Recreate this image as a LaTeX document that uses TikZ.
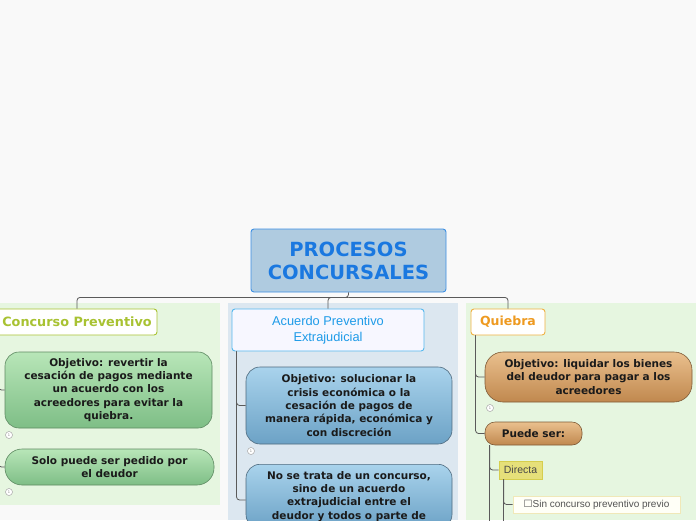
\documentclass[tikz,border=0pt]{standalone}
\usepackage{fontspec}
\setmainfont{DejaVu Sans}
\newfontfamily\arialfont{Liberation Sans}
\newfontfamily\symbolfont{DejaVu Sans}
\usetikzlibrary{calc}

\definecolor{bgwhite}{HTML}{F9F9F9}
\definecolor{panelgreen}{HTML}{E6F6E0}
\definecolor{panelblue}{HTML}{DCE7F0}
\definecolor{linegray}{HTML}{5A5A5A}
\definecolor{rootfill}{HTML}{AFCBE0}
\definecolor{rootline}{HTML}{3D8FE3}
\definecolor{roottext}{HTML}{1A78E0}
\definecolor{limegreen}{HTML}{A8C232}
\definecolor{skyline}{HTML}{55B8EE}
\definecolor{skytext}{HTML}{1E9BE8}
\definecolor{orangeline}{HTML}{F0B040}
\definecolor{orangetext}{HTML}{EE9A20}
\definecolor{nodetext}{HTML}{1A1A1A}
\definecolor{greentop}{HTML}{B8E6B8}
\definecolor{greenbottom}{HTML}{7EBE86}
\definecolor{greenline}{HTML}{5E8A62}
\definecolor{bluetop}{HTML}{A9D3EC}
\definecolor{bluebottom}{HTML}{6CA2C6}
\definecolor{blueline}{HTML}{4E6A7E}
\definecolor{browntop}{HTML}{EAC08E}
\definecolor{brownbottom}{HTML}{C0884E}
\definecolor{brownline}{HTML}{7E5A36}
\definecolor{directafill}{HTML}{E6E07A}
\definecolor{directaline}{HTML}{D6CE4E}
\definecolor{sinline}{HTML}{F0E8B8}

\begin{document}
\begin{tikzpicture}[x=1pt, y=-1pt,
    conn/.style={draw=linegray, line width=0.8pt, rounded corners=3pt},
    topic/.style={rectangle, rounded corners=3pt, line width=0.9pt, fill=white, align=center, inner sep=0pt},
    bubble/.style={rectangle, rounded corners=14pt, draw=#1, line width=0.6pt, align=center,
                   inner sep=0pt, text=nodetext, font=\fontsize{10.5}{13.3}\selectfont\bfseries},
    greenbubble/.style={bubble=greenline, top color=greentop, bottom color=greenbottom},
    bluebubble/.style={bubble=blueline, top color=bluetop, bottom color=bluebottom},
    brownbubble/.style={bubble=brownline, top color=browntop, bottom color=brownbottom},
    marker/.style={circle, draw=gray!70, fill=white, line width=0.5pt, minimum size=7pt, inner sep=0pt,
                   font=\fontsize{3.5}{4}\selectfont, text=gray}
  ]
      % Page
      \useasboundingbox (0,0) rectangle (696,520);
      \clip (0,0) rectangle (696,520);
      \fill[bgwhite] (0,0) rectangle (696,520);

      % Branch panels
      \fill[panelgreen] (0,303) rectangle (220,505);
      \fill[panelblue] (228,303) rectangle (458,520);
      \fill[panelgreen] (466,303) rectangle (696,520);

      % Central topic
      \node[topic, draw=rootline, fill=rootfill, text=roottext, minimum width=195pt, minimum height=63pt,
            font=\fontsize{19.5}{23}\selectfont\bfseries] (root) at (348.5,260.5) {PROCESOS\\CONCURSALES};

      % Main branches
      \node[topic, draw=limegreen, text=limegreen, minimum width=160pt, minimum height=26pt,
            font=\fontsize{12.8}{15}\selectfont\bfseries] (concurso) at (77,322) {Concurso Preventivo};
      \node[topic, draw=skyline, fill=blue!3!white, text=skytext, minimum width=192pt, minimum height=42pt,
            font=\arialfont\fontsize{12.8}{16}\selectfont] (acuerdo) at (328,330) {Acuerdo Preventivo\\Extrajudicial};
      \node[topic, draw=orangeline, text=orangetext, minimum width=74pt, minimum height=26pt,
            font=\fontsize{12.5}{15}\selectfont\bfseries] (quiebra) at (508,322) {Quiebra};

      % Concurso Preventivo
      \node[greenbubble, minimum width=207pt, minimum height=76pt] (revertir) at (108.5,390)
        {Objetivo: revertir la\\cesación de pagos mediante\\un acuerdo con los\\acreedores para evitar la\\quiebra.};
      \node[greenbubble, rounded corners=17pt, minimum width=209pt, minimum height=36pt] (solo) at (109.5,467)
        {Solo puede ser pedido por\\el deudor};

      % Acuerdo Preventivo Extrajudicial
      \node[bluebubble, minimum width=206pt, minimum height=77pt] (solucionar) at (349,405.5)
        {Objetivo: solucionar la\\crisis económica o la\\cesación de pagos de\\manera rápida, económica y\\con discreción};
      \node[bluebubble, anchor=north, minimum width=206pt, inner ysep=7pt] (notrata) at (349,464)
        {No se trata de un concurso,\\sino de un acuerdo\\extrajudicial entre el\\deudor y todos o parte de};

      % Quiebra
      \node[brownbubble, rounded corners=18pt, minimum width=207pt, minimum height=50pt] (liquidar) at (588.5,377)
        {Objetivo: liquidar los bienes\\del deudor para pagar a los\\acreedores};
      \node[brownbubble, rounded corners=10pt, minimum width=97pt, minimum height=23pt] (puede) at (533.5,433.5)
        {Puede ser:};
      \node[rectangle, draw=directaline, fill=directafill, line width=0.8pt,
            minimum width=43pt, minimum height=18pt, inner sep=0pt, text=nodetext!80,
            font=\arialfont\fontsize{10.5}{12}\selectfont] (directa) at (520.5,470) {Directa};
      \node[rectangle, draw=sinline, fill=white!97!yellow, line width=0.8pt,
            minimum width=167pt, minimum height=17pt, inner sep=0pt, text=nodetext!75,
            font=\arialfont\fontsize{10}{12}\selectfont] (sin) at (596.5,504.5)
        {{\symbolfont ☐}Sin concurso preventivo previo};

      % Connectors from the central topic
      \coordinate (split) at ($(root.south)+(0,5)$);
      \draw[conn] (root.south) -- (split) -| (concurso.north);
      \draw[conn] (split) -| (acuerdo.north);
      \draw[conn] (split) -| (quiebra.north);

      % Connectors inside the branches
      \coordinate (lefttrunk) at ($(concurso.south west)+(2,0)$);
      \draw[conn] (lefttrunk) |- (revertir.west);
      \draw[conn] (lefttrunk) |- (solo.west);

      \coordinate (midtrunk) at ($(acuerdo.south west)+(5,0)$);
      \draw[conn] (midtrunk) |- (solucionar.west);
      \draw[conn] (midtrunk) |- ($(notrata.north west)+(0,36)$);

      \coordinate (righttrunk) at ($(quiebra.south west)+(5,0)$);
      \draw[conn] (righttrunk) |- (liquidar.west);
      \draw[conn] (righttrunk) |- (puede.west);

      \coordinate (puedetrunk) at ($(puede.south west)+(5,0)$);
      \coordinate (puedeend) at ($(puedetrunk)+(0,80)$);
      \draw[conn] (puedetrunk) |- (directa.west);
      \draw[conn] (puedetrunk) -- (puedeend);

      \coordinate (directatrunk) at ($(directa.south west)+(5,0)$);
      \coordinate (directaend) at ($(directatrunk)+(0,50)$);
      \draw[conn] (directatrunk) |- (sin.west);
      \draw[conn] (directatrunk) -- (directaend);

      % Collapse markers
      \node[marker] (m1) at (9,435) {1};
      \node[marker] (m2) at (9,492) {1};
      \node[marker] (m3) at (251,451) {1};
      \node[marker] (m4) at (490,408) {1};

\end{tikzpicture}
\end{document}
